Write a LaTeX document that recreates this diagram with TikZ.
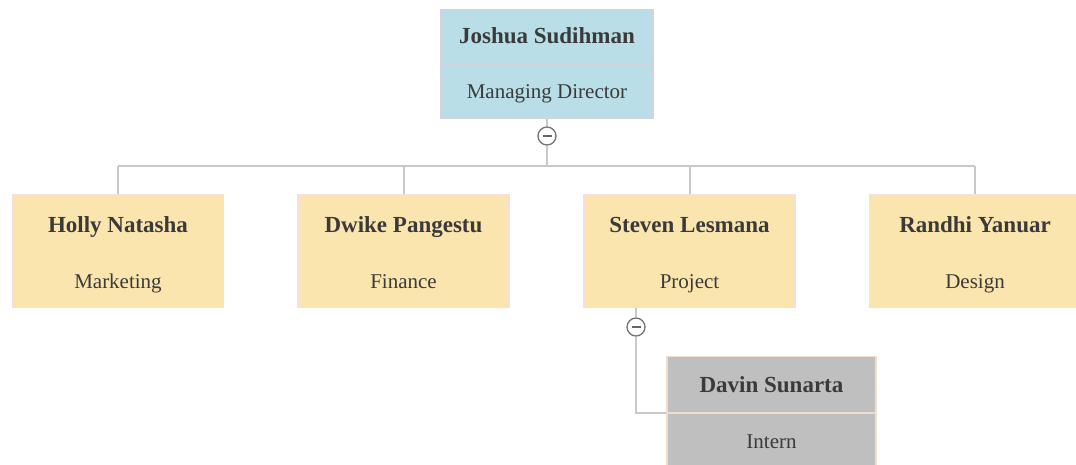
\documentclass[tikz,border=0pt]{standalone}
\usepackage{fontspec}
\setmainfont{Liberation Serif}
\usetikzlibrary{shapes.multipart}

\definecolor{cblue}{HTML}{B9DEE8}
\definecolor{cbluerim}{HTML}{D2D2DE}
\definecolor{cyellow}{HTML}{FBE5AE}
\definecolor{cyellowrim}{HTML}{F8DEDE}
\definecolor{cgrey}{HTML}{BFBFBF}
\definecolor{cgreyrim}{HTML}{F2DCCB}
\definecolor{clink}{HTML}{C9C9C9}
\definecolor{ctext}{HTML}{3A3A3A}

% one card = name on top, role below; each half is a fixed-height slot
\newcommand\slot{\rule[-\slotdp]{0pt}{\slotht}}
\newcommand\card[2]{{\fontsize{23}{27}\selectfont\bfseries #1}\slot\nodepart{two}#2\slot}

\tikzset{person/.style={rectangle split, rectangle split parts=2, minimum width=211pt,
           inner xsep=0pt, inner ysep=0pt, line width=1.5pt, text=ctext,
           font=\fontsize{21}{25}\selectfont},
         head/.style={person, fill=cblue, draw=cbluerim, minimum width=212pt,
           /utils/exec={\def\slotht{53pt}\def\slotdp{19.5pt}}},
         staff/.style={person, fill=cyellow, draw=cyellowrim, rectangle split draw splits=false,
           /utils/exec={\def\slotht{55pt}\def\slotdp{18pt}}},
         intern/.style={person, fill=cgrey, draw=cgreyrim, minimum width=209pt,
           /utils/exec={\def\slotht{55pt}\def\slotdp{20pt}}},
         link/.style={clink, line width=2pt},
         toggle/.style={circle, draw=black!55, fill=white, line width=1.3pt, minimum size=18pt,
           inner sep=0pt, path picture={\draw[black!60, line width=1.5pt]
             ([xshift=-4.5pt]path picture bounding box.center) -- ([xshift=4.5pt]path picture bounding box.center);}}}

\begin{document}
\begin{tikzpicture}[x=1pt,y=-1pt]
    \clip (0,0) rectangle (1076,464);
    \fill[white] (0,0) rectangle (1076,464);

    \node[head]   (joshua) at (547,64)    {\card{Joshua Sudihman}{Managing Director}};
    \node[staff]  (holly)  at (118,251)   {\card{Holly Natasha}{Marketing}};
    \node[staff]  (dwike)  at (403.5,251) {\card{Dwike Pangestu}{Finance}};
    \node[staff]  (steven) at (689.5,251) {\card{Steven Lesmana}{Project}};
    \node[staff]  (randhi) at (975,251)   {\card{Randhi Yanuar}{Design}};
    \node[intern] (davin)  at (771.5,413) {\card{Davin Sunarta}{Intern}};

    \coordinate (bus) at (547,166);
    \node[toggle] (fold1) at (547,136) {};
    \node[toggle] (fold2) at (636,327) {};

    % director to the four heads of department
    \draw[link] (joshua.south) -- (fold1.north);
    \draw[link] (fold1.south) -- (bus);
    \draw[link] (bus -| holly) -- (bus -| randhi);
    \foreach \who in {holly,dwike,steven,randhi}
      \draw[link] (bus -| \who) -- (\who.north);

    % project lead to the intern
    \draw[link] (steven.south -| fold2) -- (fold2.north);
    \draw[link] (fold2.south) |- (davin.west);
  \end{tikzpicture}
\end{document}
